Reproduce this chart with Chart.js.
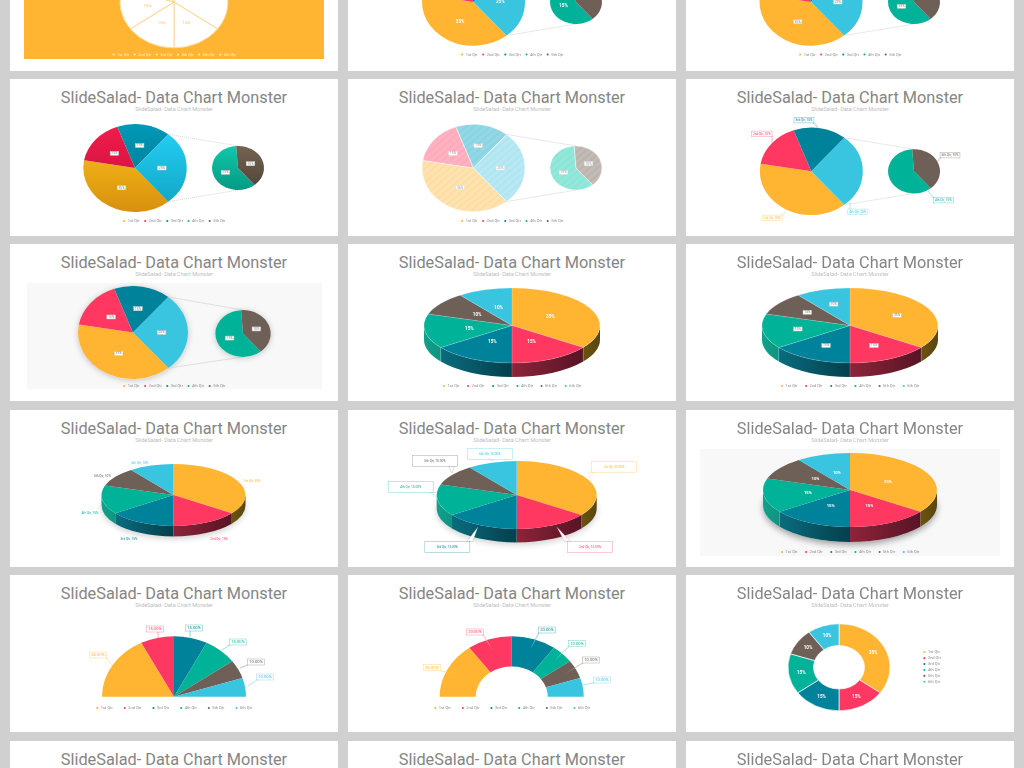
<!DOCTYPE html>
<html>
<head>
<meta charset="utf-8">
<title>SlideSalad- Data Chart Monster</title>
<script src="https://cdn.jsdelivr.net/npm/chart.js@4/dist/chart.umd.min.js"></script>
<style>
html, body { margin: 0; width: 1024px; height: 768px; overflow: hidden; background: #d0d0d0; }
.card { position: absolute; width: 328px; height: 157px; background: #fff; overflow: hidden; }
.card canvas { position: absolute; left: 0; top: 0; }
.title { position: absolute; left: 0; width: 100%; top: 9px; text-align: center; font: 16.3px/20px Roboto, sans-serif; color: #858585; white-space: nowrap; }
.sub { position: absolute; left: 0; width: 100%; top: 26.5px; text-align: center; font: 5.6px/7px Roboto, sans-serif; color: #bdbdbd; white-space: nowrap; }
.panel { position: absolute; }
</style>
</head>
<body>
<script>
// categories
const qtr6 = ['1st Qtr', '2nd Qtr', '3rd Qtr', '4th Qtr', '5th Qtr', '6th Qtr'];
const qtr5 = qtr6.slice(0, 5);
const mainCats = qtr6.slice(0, 4);
const subCats = ['4th Qtr', '5th Qtr'];

// series values
const shares = [35, 15, 15, 15, 10, 10];
const mainShares = [35, 15, 15, 25];
const subShares = [15, 10];
const halfShares = [30, 20, 20, 10, 10, 10];

// colours
const ORANGE = '#FFB531', RED = '#FE3860', TEAL = '#00829B', GREEN = '#00B398', BROWN = '#6F6057', BLUE = '#39C5E0';
const colors6 = [ORANGE, RED, TEAL, GREEN, BROWN, BLUE];
const colors5 = colors6.slice(0, 5);
const mainColors = [ORANGE, RED, TEAL, BLUE];
const subColors = [GREEN, BROWN];
const rim6 = [['#6b5310', '#5a4610'], ['#8e2439', '#571425'], ['#0a6c7e', '#043f4c'], ['#12a08c', '#0f9480'], ['#4a3f39', '#4a3f39'], ['#1f7f92', '#1f7f92']];

const CARD_W = 328, CARD_H = 157;
const colX = [10, 348, 686];
const rowY = [-86, 79, 244, 410, 575, 741];

// legend / label options
function legendOpts(cats, cols, gap, color) {
    return {
        display: true, position: 'bottom',
        labels: {
            font: { family: 'Roboto', size: 4 }, color: color || '#8a8a8a', padding: gap,
            usePointStyle: true, boxWidth: 3, boxHeight: 1.5,
            generateLabels: () => cats.map((t, i) => ({ text: t, fillStyle: cols[i], strokeStyle: cols[i], lineWidth: 0, pointStyle: 'circle', fontColor: color || '#8a8a8a', datasetIndex: 0, index: i }))
        }
    };
}

function arcPoint(p, angle, f) {
    return [p.cx + Math.cos(angle) * p.rx * f, p.cy + Math.sin(angle) * p.rx * p.k * f];
}

function drawTag(ctx, text, x, y, st) {
    ctx.font = (st.weight || '400') + ' ' + st.size + 'px Roboto';
    ctx.textAlign = 'center';
    ctx.textBaseline = 'middle';
    if (st.box) {
        const w = st.w || ctx.measureText(text).width + 3, h = st.h || st.size + 2;
        ctx.fillStyle = '#fff';
        ctx.fillRect(x - w / 2, y - h / 2, w, h);
        ctx.strokeStyle = st.box;
        ctx.globalAlpha = st.boxAlpha || 1;
        ctx.lineWidth = 0.5;
        ctx.strokeRect(x - w / 2, y - h / 2, w, h);
        ctx.globalAlpha = 1;
    }
    ctx.fillStyle = st.color;
    ctx.fillText(text, x, y);
}

function drawWedge(ctx, tx, ty, bx, by, w, h, color, half) {
    const l = bx - w / 2, r = bx + w / 2, t = by - h / 2, b = by + h / 2;
    const px = Math.max(l, Math.min(r, tx)), py = Math.max(t, Math.min(b, ty));
    const horiz = py === t || py === b;
    ctx.beginPath();
    ctx.moveTo(px - (horiz ? half : 0), py - (horiz ? 0 : half));
    ctx.lineTo(tx, ty);
    ctx.lineTo(px + (horiz ? half : 0), py + (horiz ? 0 : half));
    ctx.closePath();
    ctx.fillStyle = '#fff';
    ctx.fill();
    ctx.strokeStyle = color;
    ctx.globalAlpha = 0.55;
    ctx.lineWidth = 0.4;
    ctx.stroke();
    ctx.globalAlpha = 1;
}

// squashes the pie into an ellipse, moves it, adds the 3D rim, shadow and labels
const pieShape = {
    id: 'pieShape',
    beforeDatasetsDraw(chart, args, p) {
        const a = chart.getDatasetMeta(0).data[0], ctx = chart.ctx;
        ctx.save();
        ctx.translate(p.cx, p.cy);
        ctx.scale(1, p.k);
        ctx.translate(-a.x, -a.y);
        const d = (p.depth || 0) / p.k;
        if (p.shadow) {
            ctx.save();
            ctx.shadowColor = 'rgba(0,0,0,' + (p.shadowAlpha || 0.3) + ')';
            ctx.shadowBlur = 6;
            ctx.shadowOffsetY = p.shadow;
            ctx.fillStyle = '#fff';
            ctx.beginPath();
            ctx.arc(a.x, a.y + d, p.rx, 0, Math.PI * 2);
            ctx.fill();
            ctx.restore();
        }
        if (d) {
            chart.getDatasetMeta(0).data.forEach((el, i) => {
                const s = Math.max(el.startAngle, 0), e = Math.min(el.endAngle, Math.PI);
                if (e <= s) return;
                const g = ctx.createLinearGradient(a.x + Math.cos(e) * p.rx, 0, a.x + Math.cos(s) * p.rx, 0);
                g.addColorStop(0, p.rim[i][0]);
                g.addColorStop(1, p.rim[i][1]);
                ctx.fillStyle = g;
                ctx.beginPath();
                ctx.arc(a.x, a.y, p.rx, s, e);
                ctx.arc(a.x, a.y + d, p.rx, e, s, true);
                ctx.closePath();
                ctx.fill();
                if (p.rimEdge && s > 0) {
                    ctx.strokeStyle = 'rgba(255,255,255,0.55)';
                    ctx.lineWidth = 0.5;
                    ctx.beginPath();
                    ctx.moveTo(a.x + Math.cos(s) * p.rx, a.y + Math.sin(s) * p.rx);
                    ctx.lineTo(a.x + Math.cos(s) * p.rx, a.y + Math.sin(s) * p.rx + d);
                    ctx.stroke();
                }
            });
        }
    },
    afterDatasetsDraw(chart) {
        chart.ctx.restore();
    },
    afterDraw(chart, args, p) {
        const ctx = chart.ctx, arcs = chart.getDatasetMeta(0).data;
        const vals = chart.data.datasets[0].data, cats = chart.data.labels;
        ctx.save();
        if (p.connect) {
            const s = arcPoint(p, arcs[3].startAngle, 1), e = arcPoint(p, arcs[3].endAngle, 1);
            ctx.strokeStyle = p.connect.color;
            ctx.lineWidth = 0.6;
            ctx.setLineDash(p.connect.dash || []);
            ctx.beginPath();
            ctx.moveTo(s[0], s[1]);
            ctx.lineTo(p.connect.x - chart.cardX, p.connect.top - chart.cardY);
            ctx.moveTo(e[0], e[1]);
            ctx.lineTo(p.connect.x - chart.cardX, p.connect.bottom - chart.cardY);
            ctx.stroke();
            ctx.setLineDash([]);
        }
        if (p.inside) {
            arcs.forEach((el, i) => {
                const pt = arcPoint(p, (el.startAngle + el.endAngle) / 2, p.inside.f);
                drawTag(ctx, vals[i] + '%', pt[0], pt[1], p.inside);
            });
        }
        if (p.tags) {
            p.tags.list.forEach((t, i) => {
                const text = p.tags.cat ? cats[i] + ', ' + vals[i] + p.tags.unit : vals[i] + p.tags.unit;
                const color = chart.data.datasets[0].tagColors[i];
                const st = { size: p.tags.size, weight: p.tags.weight, color: color, box: p.tags.box ? color : null, boxAlpha: 0.55, w: p.tags.w, h: p.tags.h };
                if (t[2] !== undefined) {
                    ctx.font = st.size + 'px Roboto';
                    const w = st.w || ctx.measureText(text).width + 3, h = st.h || st.size + 2;
                    drawWedge(ctx, t[2] - chart.cardX, t[3] - chart.cardY, t[0] - chart.cardX, t[1] - chart.cardY, w, h, color, p.tags.half || 1);
                }
                drawTag(ctx, text, t[0] - chart.cardX, t[1] - chart.cardY, st);
            });
        }
        ctx.restore();
    }
};
Chart.register(pieShape);

function addCard(col, row) {
    const d = document.createElement('div');
    d.className = 'card';
    d.style.left = colX[col] + 'px';
    d.style.top = rowY[row] + 'px';
    d.innerHTML = '<div class="title">SlideSalad- Data Chart Monster</div><div class="sub">SlideSalad- Data Chart Monster</div>';
    d.dataset.x = colX[col];
    d.dataset.y = rowY[row];
    document.body.appendChild(d);
    return d;
}

function addPanel(card, l, t, r, b, color) {
    const p = document.createElement('div');
    p.className = 'panel';
    p.style.cssText = 'left:' + (l - card.dataset.x) + 'px;top:' + (t - card.dataset.y) + 'px;width:' + (r - l) + 'px;height:' + (b - t) + 'px;background:' + color;
    card.appendChild(p);
}

function addPie(card, o) {
    const cv = document.createElement('canvas');
    cv.width = CARD_W;
    cv.height = CARD_H;
    cv.style.width = CARD_W + 'px';
    cv.style.height = CARD_H + 'px';
    card.appendChild(cv);
    const cardX = +card.dataset.x, cardY = +card.dataset.y;
    const shape = Object.assign({}, o.shape, { cx: o.cx - cardX, cy: o.cy - cardY, rx: o.rx, k: o.k });
    const legend = o.legend ? legendOpts(o.legend.cats, o.legend.cols, o.legend.gap, o.legend.color) : { display: false };
    if (o.legend && o.legend.right) legend.position = 'right';
    const chart = new Chart(cv, {
        type: o.cutout ? 'doughnut' : 'pie',
        data: {
            labels: o.cats,
            datasets: [{
                data: o.values,
                backgroundColor: o.fill,
                borderColor: o.border || 'transparent',
                borderWidth: o.borderWidth === undefined ? 0 : o.borderWidth,
                tagColors: o.tagColors || o.colors,
                radius: o.rx,
                cutout: o.cutout || 0,
                clip: false
            }]
        },
        options: {
            responsive: false,
            animation: false,
            rotation: o.rotation || 0,
            circumference: o.circumference || 360,
            cutout: o.cutout || 0,
            layout: { padding: o.padding || { bottom: o.legend ? o.legend.pad : 0 } },
            plugins: { legend: legend, tooltip: { enabled: false }, pieShape: shape }
        }
    });
    chart.cardX = cardX;
    chart.cardY = cardY;
    chart.draw();
    return chart;
}

// vertical gradient per slice, for the glossy slide
function gradFill(stops, r) {
    return c => {
        const area = c.chart.chartArea, st = stops[c.dataIndex];
        if (!st) return undefined;
        if (!area) return st[0];
        const my = (area.top + area.bottom) / 2;
        const g = c.chart.ctx.createLinearGradient(0, my - r, 0, my + r);
        g.addColorStop(0, st[0]);
        g.addColorStop(1, st[1]);
        return g;
    };
}

// pale diagonal stripes, for the hatched slide
function stripes(base, line) {
    const p = document.createElement('canvas');
    p.width = p.height = 8;
    const x = p.getContext('2d');
    x.fillStyle = base;
    x.fillRect(0, 0, 8, 8);
    x.strokeStyle = line;
    x.lineWidth = 2;
    x.beginPath();
    x.moveTo(-2, 2); x.lineTo(2, -2);
    x.moveTo(0, 8); x.lineTo(8, 0);
    x.moveTo(6, 10); x.lineTo(10, 6);
    x.stroke();
    return x.createPattern(p, 'repeat');
}

const whiteLbl = { size: 4.6, weight: '700', color: '#fff' };
const boxLbl = { size: 3.4, color: '#888', box: '#ccc', w: 8.5, h: 4 };

// one pie-of-pie slide; the small pie sits at (sx, cy)
function pieOfPie(card, o) {
    addPie(card, {
        cx: o.cx, cy: o.cy, rx: o.rx, k: o.k, values: mainShares, cats: mainCats, colors: mainColors,
        fill: o.mainFill || mainColors, border: o.border, borderWidth: o.border ? 0.5 : 0, rotation: 140,
        legend: o.legend === false ? null : { cats: qtr5, cols: colors5, gap: 4, pad: o.pad === undefined ? 3 : o.pad, color: o.legendColor },
        shape: { inside: o.lbl ? Object.assign({ f: 0.52 }, o.lbl) : null, tags: o.mainTags, shadow: o.shadow, shadowAlpha: 0.22,
            connect: { x: o.sx, top: (o.scy || o.cy) - o.srx * o.k, bottom: (o.scy || o.cy) + o.srx * o.k, color: o.lineColor || '#d9d9d9', dash: o.dash } }
    });
    addPie(card, {
        cx: o.sx, cy: o.scy || o.cy, rx: o.srx, k: o.k, values: subShares, cats: subCats, colors: subColors,
        fill: o.subFill || subColors, border: o.border, borderWidth: o.border ? 0.5 : 0, rotation: 140,
        shape: { inside: o.lbl ? Object.assign({ f: 0.52 }, o.lbl) : null, tags: o.subTags, shadow: o.shadow, shadowAlpha: 0.22 }
    });
}

// row 0
let card = addCard(0, 0);
addPanel(card, 24, -86, 324, 59, ORANGE);
addPie(card, {
    cx: 174, cy: 2, rx: 54, k: 0.85, values: shares, cats: qtr6, colors: colors6, fill: '#fff', border: '#fbd48c', borderWidth: 1,
    legend: { cats: qtr6, cols: ['#ffeecb', '#ffeecb', '#ffeecb', '#ffeecb', '#ffeecb', '#ffeecb'], gap: 4, pad: 4.5, color: '#ffeecb' },
    shape: { inside: { f: 0.5, size: 4.4, color: '#f8c873' } }
});
pieOfPie(addCard(1, 0), { cx: 473.5, cy: 2, rx: 51.5, k: 0.85, sx: 576, srx: 26, lbl: whiteLbl, pad: 4.5 });
pieOfPie(addCard(2, 0), { cx: 811, cy: 2, rx: 51.5, k: 0.85, sx: 914, srx: 26, lbl: boxLbl, pad: 4.5 });

// row 1
const glossMain = [['#ffc41c', '#d8900e'], ['#f21c4c', '#c0103a'], ['#0099b8', '#006c83'], ['#25d2f7', '#10a2c2']];
const glossSub = [['#10c8aa', '#049a82'], ['#74634f', '#50433a']];
pieOfPie(addCard(0, 1), { cx: 135, cy: 168, rx: 51.7, k: 0.85, sx: 238, srx: 26, lbl: boxLbl, mainFill: gradFill(glossMain, 52), subFill: gradFill(glossSub, 26), lineColor: '#aaa', dash: [0.8, 1.2] });
pieOfPie(addCard(1, 1), {
    cx: 473.5, cy: 168, rx: 51.5, k: 0.85, sx: 576, srx: 26, border: '#fff',
    lbl: { size: 3.4, color: '#999', box: '#ddd', w: 8.5, h: 4 },
    mainFill: [stripes('#fee3b0', '#fddca0'), stripes('#ffb3c2', '#ffa9ba'), stripes('#93d8e7', '#89d3e3'), stripes('#b9e9f3', '#aee5f1')],
    subFill: [stripes('#93e8da', '#89e5d5'), stripes('#c3bcb6', '#bbb3ad')]
});
const tag = { size: 3.2, cat: true, unit: '%', box: true };
pieOfPie(addCard(2, 1), {
    cx: 811.3, cy: 171.3, rx: 51.5, k: 0.85, sx: 914, srx: 26, legend: false,
    mainTags: Object.assign({ list: [[772.3, 217.7, 785, 212], [761.7, 133.7, 772, 143], [804, 120.3, 818, 128], [857.7, 211.7, 850, 203]] }, tag),
    subTags: Object.assign({ list: [[943.3, 200.3, 928, 191], [950, 155.3, 937, 163]] }, tag)
});

// row 2
card = addCard(0, 2);
addPanel(card, 27, 283, 322, 389, '#f8f8f8');
pieOfPie(card, { cx: 133, cy: 332.5, rx: 55, k: 0.845, sx: 243, scy: 333.5, srx: 27.7, lbl: boxLbl, shadow: 1, lineColor: '#cfcfcf' });
addPie(addCard(1, 2), {
    cx: 512, cy: 325.5, rx: 88, k: 0.426, values: shares, cats: qtr6, colors: colors6, fill: colors6, border: 'rgba(255,255,255,.45)', borderWidth: 0.5,
    legend: { cats: qtr6, cols: colors6, gap: 7, pad: 3 },
    shape: { depth: 14, rim: rim6, rimEdge: true, inside: { f: 0.49, size: 4.6, weight: '700', color: '#fff' } }
});
addPie(addCard(2, 2), {
    cx: 850, cy: 325.5, rx: 88, k: 0.426, values: shares, cats: qtr6, colors: colors6, fill: colors6, border: 'rgba(255,255,255,.45)', borderWidth: 0.5,
    legend: { cats: qtr6, cols: colors6, gap: 7, pad: 3 },
    shape: { depth: 14, rim: rim6, rimEdge: true, inside: Object.assign({ f: 0.6 }, boxLbl) }
});

// row 3
addPie(addCard(0, 3), {
    cx: 173.5, cy: 495, rx: 72, k: 0.43, values: shares, cats: qtr6, colors: colors6, fill: colors6,
    shape: { depth: 10.5, rim: rim6, shadow: 2, shadowAlpha: 0.2,
        tags: { size: 3.2, cat: true, unit: '%', list: [[252, 480.7], [219, 538.7], [129, 538.7], [90, 513], [102.3, 476], [140, 462.7]] } }
});
addPie(addCard(1, 3), {
    cx: 516.7, cy: 495, rx: 80, k: 0.425, values: shares, cats: qtr6, colors: colors6, fill: colors6,
    shape: { depth: 13.5, rim: rim6, shadow: 2, shadowAlpha: 0.2,
        tags: { size: 3.2, cat: true, unit: '.00%', box: true, w: 45, h: 11, half: 3,
            list: [[614, 466.7, 590, 478], [590, 547, 556.7, 526.7], [447.3, 547, 478, 526.7], [410.7, 487, 436.7, 496.7], [435, 461, 451.7, 473], [490, 454, 491.7, 461]] } }
});
card = addCard(2, 3);
addPanel(card, 700, 449, 1000, 556, '#f8f8f8');
addPie(card, {
    cx: 850, cy: 490, rx: 87, k: 0.425, values: shares, cats: qtr6, colors: colors6, fill: colors6,
    legend: { cats: qtr6, cols: colors6, gap: 7, pad: 3 },
    shape: { depth: 15, rim: rim6, shadow: 3, shadowAlpha: 0.35, inside: { f: 0.49, size: 4.2, weight: '700', color: '#fff' } }
});

// row 4
addPie(addCard(0, 4), {
    cx: 174, cy: 696.7, rx: 72, k: 0.84, rotation: -90, circumference: 180, values: shares, cats: qtr6, colors: colors6, fill: colors6,
    legend: { cats: qtr6, cols: colors6, gap: 10.5, pad: 12 },
    shape: { tags: { size: 4.2, unit: '.00%', box: true, h: 6, half: 0.4,
        list: [[98, 655, 112, 665], [155, 629, 158, 639], [194, 628, 190, 637], [238, 642, 222, 650], [256, 662, 240, 668], [265, 677, 248, 686]] } }
});
addPie(addCard(1, 4), {
    cx: 511.7, cy: 696.7, rx: 72, k: 0.84, rotation: -90, circumference: 180, cutout: '50%', values: halfShares, cats: qtr6, colors: colors6, fill: colors6,
    legend: { cats: qtr6, cols: colors6, gap: 10.5, pad: 12 },
    shape: { tags: { size: 4.2, unit: '.00%', box: true, h: 6, half: 0.5,
        list: [[432, 667.7, 458, 674], [475, 632, 493, 651], [547, 630, 530, 650], [577, 643.7, 553, 662], [591, 660, 565, 674], [602, 680, 575, 686]] } }
});
addPie(addCard(2, 4), {
    cx: 839, cy: 667.3, rx: 51, k: 0.853, cutout: '50%', values: shares, cats: qtr6, colors: colors6, fill: colors6, border: '#fff', borderWidth: 0.7,
    legend: { cats: qtr6, cols: colors6, gap: 1.9, right: true },
    padding: { top: 27, right: 63 },
    shape: { inside: { f: 0.75, size: 4.6, weight: '700', color: '#fff' } }
});

// row 5, only the headings are in frame
addCard(0, 5);
addCard(1, 5);
addCard(2, 5);
</script>
</body>
</html>
